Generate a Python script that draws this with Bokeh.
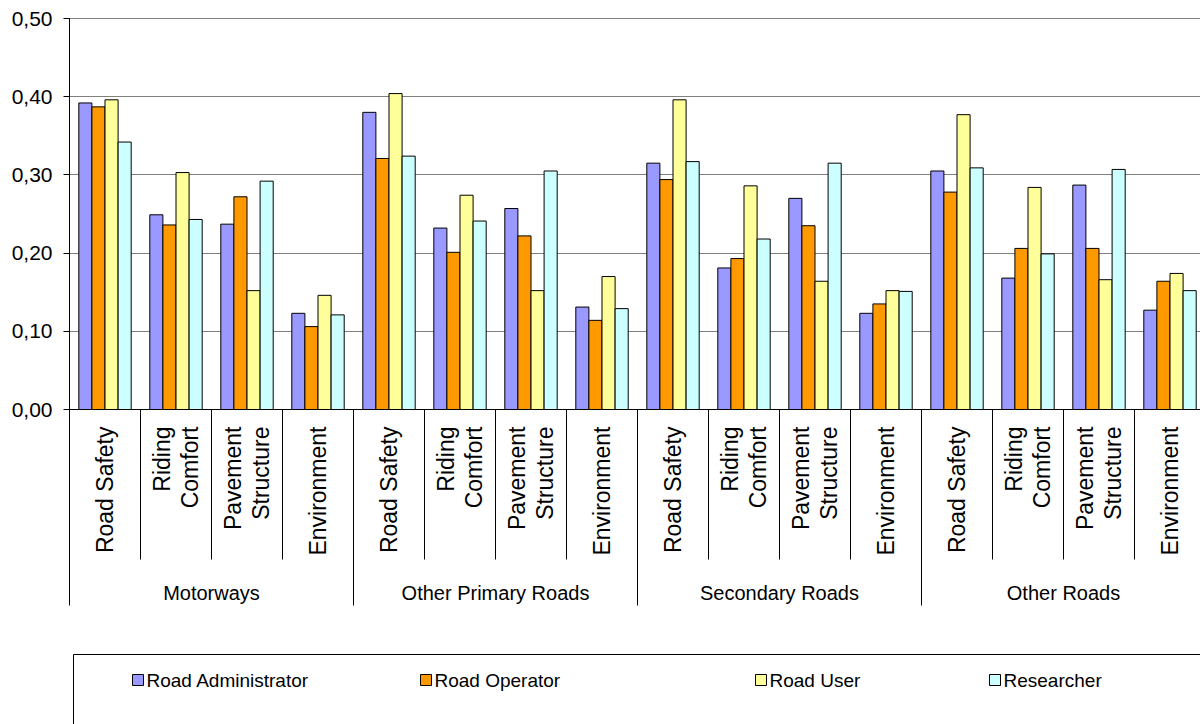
import math
from bokeh.plotting import figure
from bokeh.models import Range1d, FixedTicker, CustomJSTickFormatter
from bokeh.core.properties import value
from bokeh.embed import file_html
from bokeh.resources import INLINE

# ---------------- data ----------------
groups = ["Motorways", "Other Primary Roads", "Secondary Roads", "Other Roads"]
criteria = ["Road Safety", "Riding\nComfort", "Pavement\nStructure", "Environment"]
series = ["Road Administrator", "Road Operator", "Road User", "Researcher"]
colors = ["#9999FF", "#FF9900", "#FFFF99", "#CCFFFF"]

road_administrator = [0.392, 0.249, 0.237, 0.123,
                      0.380, 0.232, 0.257, 0.131,
                      0.315, 0.181, 0.270, 0.123,
                      0.305, 0.168, 0.287, 0.127]
road_operator = [0.387, 0.236, 0.272, 0.106,
                 0.321, 0.201, 0.222, 0.114,
                 0.294, 0.193, 0.235, 0.135,
                 0.278, 0.206, 0.206, 0.164]
road_user = [0.396, 0.303, 0.152, 0.146,
             0.404, 0.274, 0.152, 0.170,
             0.396, 0.286, 0.164, 0.152,
             0.377, 0.284, 0.166, 0.174]
researcher = [0.342, 0.243, 0.292, 0.121,
              0.324, 0.241, 0.305, 0.129,
              0.317, 0.218, 0.315, 0.151,
              0.309, 0.199, 0.307, 0.152]
y_ticks = [0.0, 0.1, 0.2, 0.3, 0.4, 0.5]

values_by_series = [road_administrator, road_operator, road_user, researcher]

# ---------------- layout constants (page pixels; Bokeh page has no body margin) ----------------
FIG_W, FIG_H = 1200, 724
PLOT_LEFT = 69       # page x of category 0 left edge
CAT_W = 71.0         # px per category
ZERO_Y = 409         # page y of value 0
UNIT = 782.0         # px per 1.0 of value
FRAME_L, FRAME_T, FRAME_R, FRAME_B = 68, 17, 1200, 724


def dx(px):
    return (px - PLOT_LEFT) / CAT_W


def dy(py):
    return (ZERO_Y - py) / UNIT


p = figure(width=FIG_W, height=FIG_H,
           x_range=Range1d(dx(FRAME_L), dx(FRAME_R)),
           y_range=Range1d(dy(FRAME_B), dy(FRAME_T)),
           output_backend="svg", toolbar_location=None,
           x_axis_location=None,
           min_border_left=FRAME_L, min_border_right=FIG_W - FRAME_R,
           min_border_top=FRAME_T, min_border_bottom=FIG_H - FRAME_B)
p.outline_line_color = None
p.background_fill_color = "white"
p.border_fill_color = "white"

# grid
p.xgrid.grid_line_color = None
p.ygrid.ticker = FixedTicker(ticks=[t for t in y_ticks if t > 0])
p.ygrid.grid_line_color = "#808080"
p.ygrid.grid_line_width = 1

# y axis
ax = p.yaxis[0]
ax.ticker = FixedTicker(ticks=y_ticks)
ax.formatter = CustomJSTickFormatter(code="return tick.toFixed(2).replace('.', ',');")
ax.axis_line_color = None
ax.major_tick_out = 5
ax.major_tick_in = 1
ax.major_tick_line_color = "black"
ax.minor_tick_line_color = None
ax.major_label_text_font = "Liberation Sans"
ax.major_label_text_font_size = "21px"
ax.major_label_text_color = "black"
ax.major_label_standoff = 11

# bars
n_cat = len(groups) * len(criteria)
n_ser = len(series)
BW = 13.1 / CAT_W
for k, vals in enumerate(values_by_series):
    xs = [i + 0.5 + (k - (n_ser - 1) / 2) * BW for i in range(n_cat)]
    p.vbar(x=xs, top=vals, bottom=0, width=BW,
           fill_color=colors[k], line_color="black", line_width=1)

# baseline
p.segment(x0=[0], y0=[0], x1=[n_cat + 1], y1=[0], line_color="black", line_width=1)

# separators of the category axis
sep_x, sep_y0, sep_y1 = [], [], []
for b in range(n_cat + 1):
    sep_x.append(b)
    if b % len(criteria) == 0:
        sep_y0.append(y_ticks[-1] if b == 0 else 0)
        sep_y1.append(dy(605))
    else:
        sep_y0.append(0)
        sep_y1.append(dy(559))
p.segment(x0=sep_x, y0=sep_y0, x1=sep_x, y1=sep_y1, line_color="black", line_width=1)

# category labels (rotated)
lx, loff, ltxt = [], [], []
LINE_GAP = 28
for g in range(len(groups)):
    for c, lab in enumerate(criteria):
        lines = lab.split("\n")
        n = len(lines)
        for j, ln in enumerate(lines):
            lx.append(g * len(criteria) + c + 0.5)
            loff.append((j - (n - 1) / 2) * LINE_GAP)
            ltxt.append(ln)
p.text(x=lx, y=[dy(426)] * len(lx), text=ltxt, x_offset=loff, angle=math.pi / 2,
       text_align="right", text_baseline="middle",
       text_font=value("Liberation Sans"), text_font_size="23px", text_color="black")

# group labels
gx = [g * len(criteria) + len(criteria) / 2 for g in range(len(groups))]
p.text(x=gx, y=[dy(592)] * len(gx), text=groups,
       text_align="center", text_baseline="middle",
       text_font=value("Liberation Sans"), text_font_size="20px", text_color="black")

# legend box (runs off the page right and bottom)
p.quad(left=[dx(73)], right=[dx(1300)], top=[dy(654)], bottom=[dy(800)],
       fill_color=None, line_color="black", line_width=1)
swatch_left = [132, 420, 755, 989]
p.scatter(x=[dx(s + 5.5) for s in swatch_left], y=[dy(679.5)] * n_ser,
          marker="square", size=11, fill_color=colors, line_color="black", line_width=1)
p.text(x=[dx(s + 14) for s in swatch_left], y=[dy(680)] * n_ser, text=series,
       text_align="left", text_baseline="middle",
       text_font=value("Liberation Sans"), text_font_size="19px", text_color="black")

open("out.html", "w").write(file_html(p, INLINE))
